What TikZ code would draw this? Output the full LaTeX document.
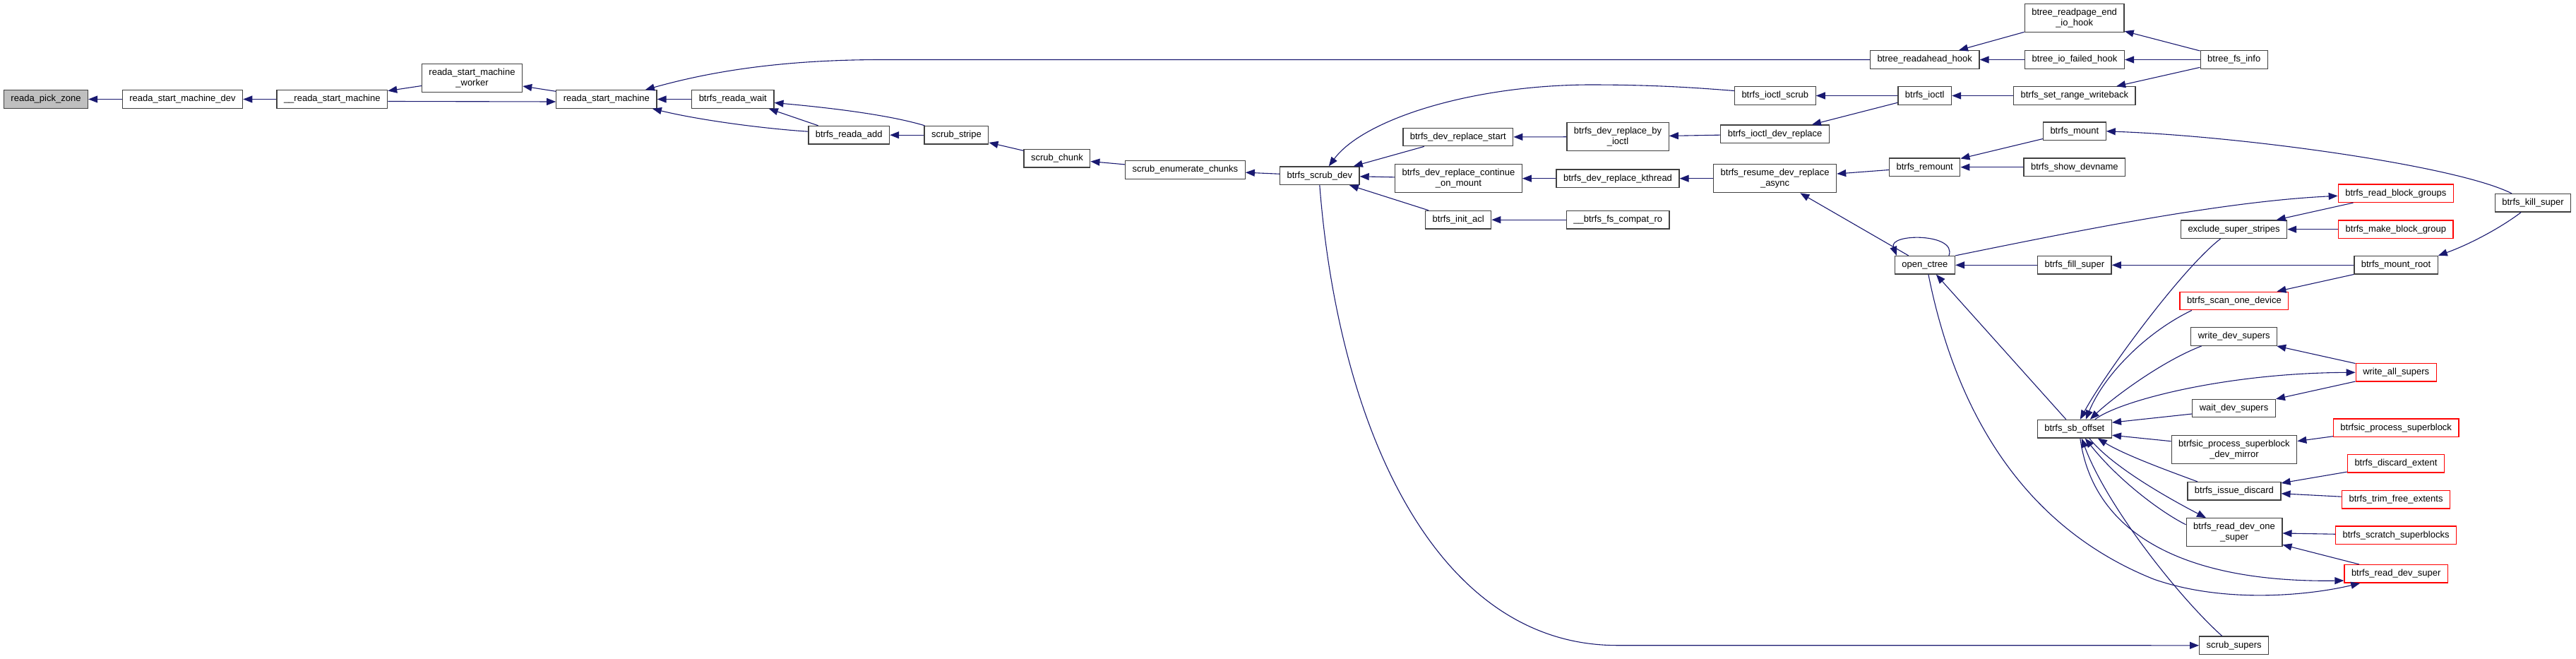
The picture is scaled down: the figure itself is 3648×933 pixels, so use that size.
\documentclass[tikz,border=0pt]{standalone}
\usepackage{fontspec}
\setmainfont{Liberation Sans}
\usetikzlibrary{arrows.meta}
\definecolor{edgeblue}{HTML}{191970}
\definecolor{boxgray}{HTML}{BFBFBF}
\definecolor{boxline}{HTML}{404040}

\begin{document}
\begin{tikzpicture}[x=1pt, y=-1pt, >={Stealth[length=13pt,width=10pt,inset=0pt]},
    fn/.style={draw=boxline, line width=1.3pt, fill=white, minimum height=25.5pt,
      inner xsep=10pt, inner ysep=2pt, align=center, font=\fontsize{13}{14.5}\selectfont},
    hot/.style={fn, draw=red},
    tall/.style={minimum height=40pt},
    link/.style={draw=edgeblue, line width=1.1pt}]
        \useasboundingbox (0,0) rectangle (3648,933);

        % reada chain
        \node[fn, fill=boxgray] (pick) at (65,140.5) {reada\_pick\_zone};
        \node[fn] (smdev) at (258.5,140.5) {reada\_start\_machine\_dev};
        \node[fn] (smint) at (470.3,140.5) {\_\_reada\_start\_machine};
        \node[fn, tall] (worker) at (668.5,110.8) {reada\_start\_machine\\\_worker};
        \node[fn] (smach) at (858.9,140.5) {reada\_start\_machine};
        \node[fn] (rwait) at (1037.8,140.5) {btrfs\_reada\_wait};
        \node[fn] (radd) at (1202.2,191.2) {btrfs\_reada\_add};
        \node[fn] (stripe) at (1354.4,191.2) {scrub\_stripe};
        \node[fn] (chunk) at (1496.9,224.3) {scrub\_chunk};
        \node[fn] (enumch) at (1678.4,240.5) {scrub\_enumerate\_chunks};
        \node[fn] (scrubdev) at (1868.8,248.7) {btrfs\_scrub\_dev};

        % dev replace
        \node[fn] (rstart) at (2064.8,194) {btrfs\_dev\_replace\_start};
        \node[fn, tall] (byioctl) at (2291,193.7) {btrfs\_dev\_replace\_by\\\_ioctl};
        \node[fn, tall] (contmount) at (2065.4,252.7) {btrfs\_dev\_replace\_continue\\\_on\_mount};
        \node[fn] (kthread) at (2291,252.7) {btrfs\_dev\_replace\_kthread};
        \node[fn] (initacl) at (2065.2,311.2) {btrfs\_init\_acl};
        \node[fn] (compatro) at (2291.2,311.2) {\_\_btrfs\_fs\_compat\_ro};
        \node[fn, tall] (resume) at (2513.6,252.7) {btrfs\_resume\_dev\_replace\\\_async};

        % ioctl and hooks
        \node[fn, tall] (endio) at (2937.6,25.7) {btree\_readpage\_end\\\_io\_hook};
        \node[fn] (rahook) at (2725.7,84.5) {btree\_readahead\_hook};
        \node[fn] (iofail) at (2938,84.5) {btree\_io\_failed\_hook};
        \node[fn] (fsinfo) at (3163.7,84.5) {btree\_fs\_info};
        \node[fn] (ioscrub) at (2513.8,135.5) {btrfs\_ioctl\_scrub};
        \node[fn] (ioctl) at (2725.7,135.5) {btrfs\_ioctl};
        \node[fn] (setrange) at (2937.8,135.5) {btrfs\_set\_range\_writeback};
        \node[fn] (iodevrep) at (2513.6,189.8) {btrfs\_ioctl\_dev\_replace};
        \node[fn] (mount) at (2937.8,185.8) {btrfs\_mount};
        \node[fn] (remount) at (2725.7,236.7) {btrfs\_remount};
        \node[fn] (showdev) at (2937.8,236.7) {btrfs\_show\_devname};
        \node[fn] (ctree) at (2725.9,375.3) {open\_ctree};
        \node[fn] (fill) at (2937.8,375.3) {btrfs\_fill\_super};
        \node[fn] (sboff) at (2937.8,607.2) {btrfs\_sb\_offset};

        % right column
        \node[hot] (readbg) at (3392.8,273.7) {btrfs\_read\_block\_groups};
        \node[fn] (kill) at (3587,287.3) {btrfs\_kill\_super};
        \node[fn] (exclude) at (3163.5,324.7) {exclude\_super\_stripes};
        \node[hot] (makebg) at (3392.8,324.7) {btrfs\_make\_block\_group};
        \node[fn] (mroot) at (3393,375.3) {btrfs\_mount\_root};
        \node[hot] (scanone) at (3163.9,426) {btrfs\_scan\_one\_device};
        \node[fn] (wdev) at (3163.7,476.5) {write\_dev\_supers};
        \node[hot] (wall) at (3393.2,527.3) {write\_all\_supers};
        \node[fn] (waitdev) at (3163.5,578) {wait\_dev\_supers};
        \node[hot] (procsb) at (3393.2,605.7) {btrfsic\_process\_superblock};
        \node[fn, tall] (mirror) at (3163.9,636.7) {btrfsic\_process\_superblock\\\_dev\_mirror};
        \node[hot] (discard) at (3393,656.3) {btrfs\_discard\_extent};
        \node[fn] (issue) at (3163.9,695.3) {btrfs\_issue\_discard};
        \node[hot] (trim) at (3393,707.2) {btrfs\_trim\_free\_extents};
        \node[fn, tall] (readone) at (3164,753.8) {btrfs\_read\_dev\_one\\\_super};
        \node[hot] (scratch) at (3393,757.7) {btrfs\_scratch\_superblocks};
        \node[hot] (readsup) at (3393.2,812.3) {btrfs\_read\_dev\_super};
        \node[fn] (scrubsup) at (3163.7,913.8) {scrub\_supers};

        % connectors, arrow at the callee
        \draw[link,<-] (pick) -- (smdev);
        \draw[link,<-] (smdev) -- (smint);
        \draw[link,<-] (smint) -- (worker);
        \draw[link,<-] (worker) -- (smach);
        \draw[link,->] ([yshift=-3pt]smint.east) -- ([yshift=-3.5pt]smach.west);
        \draw[link,<-] ([xshift=55pt]smach.north) .. controls (1000,103) and (1100,84.5) .. (1250,84.5) -- (rahook.west);
        \draw[link,<-] (smach) -- (rwait);
        \draw[link,<-] ([xshift=65pt]smach.south) .. controls (990,170) and (1080,182) .. ([yshift=5pt]radd.west);
        \draw[link,<-] ([xshift=51pt]rwait.south) -- ([xshift=-43.6pt]radd.north);
        \draw[link,<-] ([yshift=-5pt]rwait.east) .. controls (1180,153) and (1260,163) .. ([xshift=-45pt]stripe.north);
        \draw[link,<-] (radd) -- (stripe);
        \draw[link,<-] (stripe) -- (chunk);
        \draw[link,<-] (chunk) -- (enumch);
        \draw[link,<-] (enumch) -- (scrubdev);
        \draw[link,<-] ([xshift=13pt]scrubdev.north) .. controls (1930,170) and (2080,121) .. (2250,120) .. controls (2350,120) and (2410,125) .. ([yshift=7pt]ioscrub.west);
        \draw[link,<-] (scrubdev) -- (rstart);
        \draw[link,<-] (scrubdev) -- (contmount);
        \draw[link,<-] (scrubdev) -- (initacl);
        \draw[link,->] (scrubdev.south) .. controls (1895,600) and (2030,913.7) .. (2290,913.7) -- (scrubsup.west);
        \draw[link,<-] (rstart) -- (byioctl);
        \draw[link,<-] (contmount) -- (kthread);
        \draw[link,<-] (initacl) -- (compatro);
        \draw[link,<-] (byioctl) -- (iodevrep);
        \draw[link,<-] (kthread) -- (resume);
        \draw[link,<-] (ioscrub) -- (ioctl);
        \draw[link,<-] (iodevrep) -- (ioctl);
        \draw[link,<-] (ioctl) -- (setrange);
        \draw[link,<-] (rahook) -- (endio);
        \draw[link,<-] (rahook) -- (iofail);
        \draw[link,<-] (endio) -- (fsinfo);
        \draw[link,<-] (iofail) -- (fsinfo);
        \draw[link,<-] (setrange) -- (fsinfo);
        \draw[link,<-] (resume) -- (remount);
        \draw[link,<-] (resume) -- (ctree);
        \draw[link,<-] (remount) -- (mount);
        \draw[link,<-] (remount) -- (showdev);
        \draw[link,<-] (mount.east) .. controls (3180,193) and (3480,235) .. ([xshift=-30pt]kill.north);
        \draw[link,->] ([xshift=34pt]ctree.north) .. controls +(12,-32) and +(-12,-32) .. ([xshift=-40pt]ctree.north);
        \draw[link,<-] (ctree) -- (fill);
        \draw[link,->] (ctree.north east) .. controls (2950,325) and (3150,285) .. ([yshift=-3.6pt]readbg.west);
        \draw[link,<-] (fill) -- (mroot);
        \draw[link,<-] ([xshift=16pt]ctree.south) -- ([xshift=-12pt]sboff.north);
        \draw[link,->] ([xshift=5pt]ctree.south) .. controls (2765,560) and (2850,740) .. (3050,820) .. controls (3150,855) and (3270,843) .. ([xshift=-51pt]readsup.south);
        \draw[link,<-] (exclude) -- (readbg);
        \draw[link,<-] (exclude) -- (makebg);
        \draw[link,<-] (mroot.north east) .. controls (3500,345) and (3545,320) .. ([xshift=-17pt]kill.south);
        \draw[link,<-] (scanone) -- (mroot);
        \draw[link,<-] (wdev) -- (wall);
        \draw[link,<-] (waitdev) -- (wall);
        \draw[link,->] ([xshift=29pt]sboff.north) .. controls (3000,568) and (3150,528) .. (wall.west);
        \draw[link,<-] ([xshift=8pt]sboff.north) .. controls (2980,530) and (3090,380) .. ([xshift=-19pt]exclude.south);
        \draw[link,<-] ([xshift=16pt]sboff.north) .. controls (2980,530) and (3040,470) .. ([xshift=-60pt]scanone.south);
        \draw[link,<-] ([xshift=22pt]sboff.north) .. controls (2990,565) and (3060,512) .. ([xshift=-46pt]wdev.south);
        \draw[link,<-] ([yshift=9pt]sboff.east) -- ([yshift=-8pt]waitdev.west);
        \draw[link,<-] ([yshift=-9pt]sboff.east) -- ([yshift=12pt]mirror.west);
        \draw[link,<-] ([xshift=33pt]sboff.south) .. controls (3010,645) and (3080,670) .. ([xshift=-52pt]issue.north);
        \draw[link,->] ([xshift=21pt]sboff.south) .. controls (2990,660) and (3070,705) .. ([xshift=-40pt]readone.north);
        \draw[link,<-] ([xshift=15pt]sboff.south) .. controls (3000,680) and (3060,725) .. ([yshift=11pt]readone.west);
        \draw[link,->] ([xshift=8pt]sboff.south) .. controls (2965,760) and (3100,825) .. ([yshift=-9.7pt]readsup.west);
        \draw[link,<-] ([xshift=10pt]sboff.south) .. controls (2985,720) and (3090,850) .. ([xshift=-17pt]scrubsup.north);
        \draw[link,<-] (mirror) -- (procsb);
        \draw[link,<-] (issue) -- (discard);
        \draw[link,<-] (issue) -- (trim);
        \draw[link,<-] (readone) -- (scratch);
        \draw[link,<-] (readone) -- (readsup);
    \end{tikzpicture}
\end{document}
